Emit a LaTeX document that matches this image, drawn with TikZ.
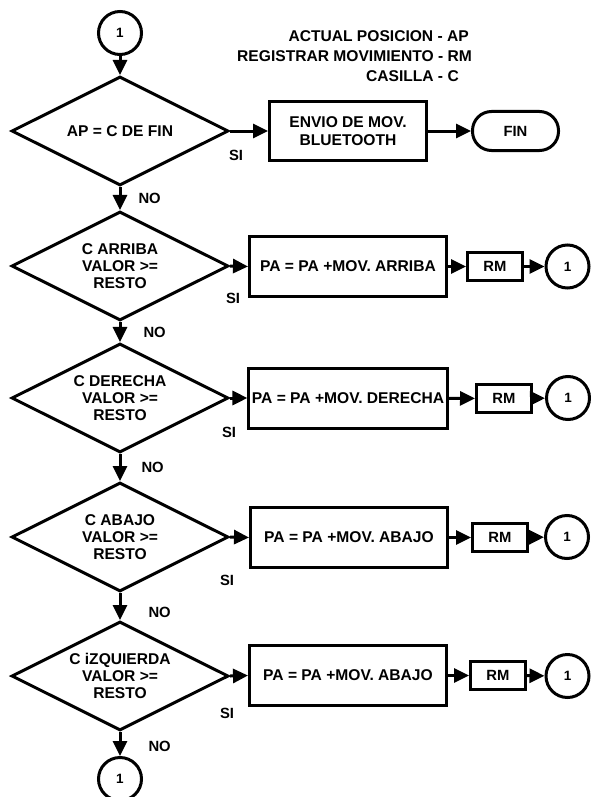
\documentclass[tikz,border=0pt]{standalone}
\usepackage{fontspec}
\setmainfont{Liberation Sans}
\usetikzlibrary{shapes.geometric, arrows.meta, positioning, calc}

\begin{document}
\begin{tikzpicture}[
    x=1pt, y=-1pt,
    >={Triangle[length=15pt 0,width=14pt 0]},
    every node/.style={font=\fontsize{15.6}{17.3}\selectfont\bfseries},
    decision/.style={
        diamond, draw, line width=3pt, aspect=2,
        minimum width=217pt, minimum height=109pt, inner sep=0pt, align=center
    },
    process/.style={
        rectangle, draw, line width=3pt,
        minimum width=197pt, minimum height=60pt, inner sep=3pt, align=center
    },
    regbox/.style={
        rectangle, draw, line width=3pt, minimum width=55pt, minimum height=28pt,
        font=\fontsize{14.8}{16}\selectfont\bfseries
    },
    connector/.style={
        circle, draw, line width=3pt, minimum size=43pt, inner sep=0pt,
        font=\fontsize{13.5}{14}\selectfont\bfseries
    },
    terminal/.style={
        rectangle, rounded corners=19pt, draw, line width=3pt,
        minimum width=86pt, minimum height=39pt,
        font=\fontsize{14.8}{16}\selectfont\bfseries
    },
    lbl/.style={font=\fontsize{14.8}{16}\selectfont\bfseries, inner sep=0pt},
    legend/.style={inner sep=0pt, anchor=east},
    flow/.style={->, line width=3pt},
]
\useasboundingbox (0,0) rectangle (591,797);

%% ============ LEGEND ============
\node[legend] (legap) at (469,36) {ACTUAL POSICION - AP};
\node[legend] (legrm) at (472,56) {REGISTRAR MOVIMIENTO - RM};
\node[legend] (legc)  at (459,76) {CASILLA - C};

%% ============ ROW 1: END CHECK ============
\node[connector] (start) at (120,33) {1};
\node[decision] (findec) at (120,131) {AP = C DE FIN};
\node[process, minimum width=157pt, minimum height=59pt] (envio) at (348,131) {
    ENVIO DE MOV.\\BLUETOOTH
};
\node[terminal] (fin) at (515.5,131) {FIN};

%% ============ ROW 2: UP ============
\node[decision] (updec) at (120,266) {C ARRIBA\\VALOR >=\\RESTO};
\node[process] (upmov) at (348,266.5) {PA = PA +MOV. ARRIBA};
\node[regbox] (uprm) at (495,266.5) {RM};
\node[connector] (upcon) at (567.5,266.5) {1};

%% ============ ROW 3: RIGHT ============
\node[decision] (rtdec) at (120,398) {C DERECHA\\VALOR >=\\RESTO};
\node[process] (rtmov) at (348,398) {PA = PA +MOV. DERECHA};
\node[regbox] (rtrm) at (504,398.5) {RM};
\node[connector] (rtcon) at (568,398) {1};

%% ============ ROW 4: DOWN ============
\node[decision] (dndec) at (120,537) {C ABAJO\\VALOR >=\\RESTO};
\node[process] (dnmov) at (349,537.5) {PA = PA +MOV. ABAJO};
\node[regbox] (dnrm) at (500,537.5) {RM};
\node[connector] (dncon) at (567,537) {1};

%% ============ ROW 5: LEFT ============
\node[decision] (lfdec) at (120,676) {C iZQUIERDA\\VALOR >=\\RESTO};
\node[process] (lfmov) at (348,675.5) {PA = PA +MOV. ABAJO};
\node[regbox] (lfrm) at (498,675.5) {RM};
\node[connector] (lfcon) at (567.5,676) {1};

\node[connector] (stop) at (120,779) {1};

%% ============ MAIN FLOW (NO branch) ============
\draw[flow] (start) -- (findec);
\draw[flow] (findec) -- node[lbl, right, xshift=17pt] {NO} (updec);
\draw[flow] (updec) -- node[lbl, right, xshift=22pt] {NO} (rtdec);
\draw[flow] (rtdec) -- node[lbl, right, xshift=20pt] {NO} (dndec);
\draw[flow] (dndec) -- node[lbl, right, xshift=27pt, pos=0.7] {NO} (lfdec);
\draw[flow] (lfdec) -- node[lbl, right, xshift=27pt, pos=0.6] {NO} (stop);

%% ============ SI BRANCHES ============
\draw[flow] (findec.east) -- (envio.west);
\draw[flow] (envio) -- (fin);

\draw[flow] (updec.east) -- (upmov.west);
\draw[flow] (upmov) -- (uprm);
\draw[flow] (uprm) -- (upcon);

\draw[flow] (rtdec.east) -- (rtmov.west);
\draw[flow] (rtmov) -- (rtrm);
\draw[flow] (rtrm) -- (rtcon);

\draw[flow] (dndec.east) -- (dnmov.west);
\draw[flow] (dnmov) -- (dnrm);
\draw[flow] (dnrm) -- (dncon);

\draw[flow] (lfdec.east) -- (lfmov.west);
\draw[flow] (lfmov) -- (lfrm);
\draw[flow] (lfrm) -- (lfcon);

% SI labels below the diamond tips
\node[lbl] (si1) at (236,155) {SI};
\node[lbl] (si2) at (233,298) {SI};
\node[lbl] (si3) at (229,432) {SI};
\node[lbl] (si4) at (227,580) {SI};
\node[lbl] (si5) at (227,713) {SI};

\end{tikzpicture}
\end{document}
